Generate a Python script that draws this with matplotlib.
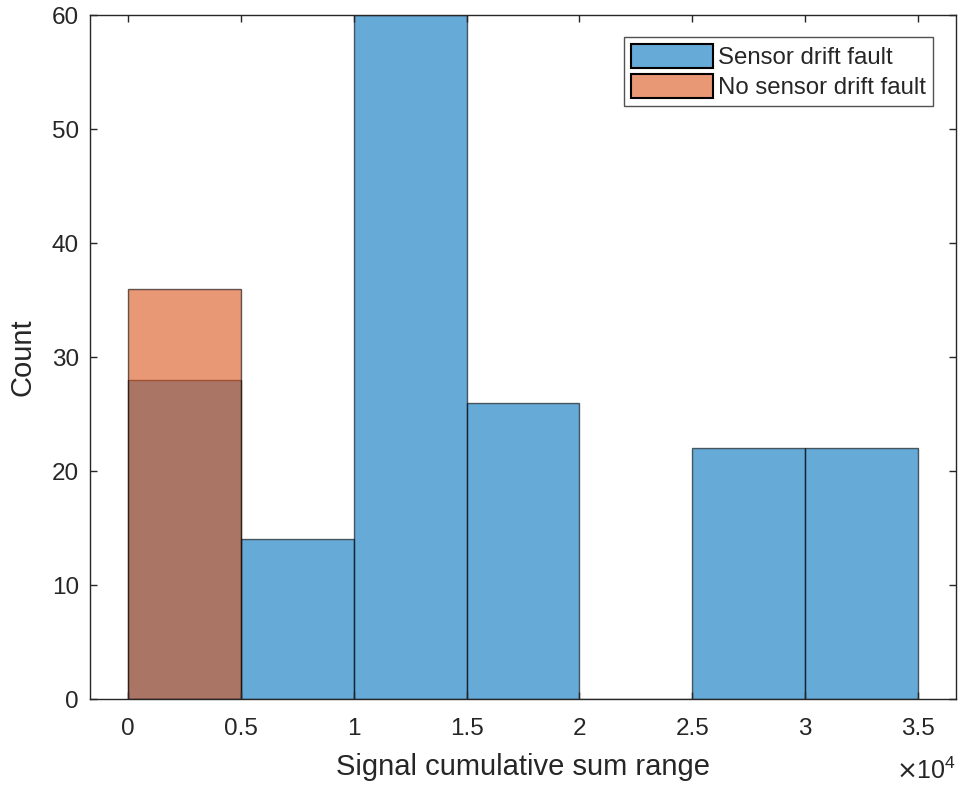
import matplotlib
matplotlib.use("Agg")
import matplotlib.pyplot as plt
import numpy as np

plt.rcParams['font.family'] = ['Liberation Sans', 'DejaVu Sans']

bin_edges = [0, 5000, 10000, 15000, 20000, 25000, 30000, 35000]
drift_counts = [28, 14, 60, 26, 0, 22, 22]
nodrift_edges = [0, 5000]
nodrift_counts = [36]
xticks = [0, 5000, 10000, 15000, 20000, 25000, 30000, 35000]
xticklabels = ['0', '0.5', '1', '1.5', '2', '2.5', '3', '3.5']
yticks = [0, 10, 20, 30, 40, 50, 60]

blue = (0, 0.447, 0.741)
orange = (0.85, 0.325, 0.098)
dark = '#262626'

fig = plt.figure(figsize=(9.59, 7.85), dpi=100)
ax = fig.add_axes([90/959, 1 - 699/785, (956-90)/959, (699-15)/785])

ax.hist(bin_edges[:-1], bins=bin_edges, weights=drift_counts, color=blue, alpha=0.6,
        edgecolor='black', linewidth=1.0, label='Sensor drift fault')
ax.hist(nodrift_edges[:-1], bins=nodrift_edges, weights=nodrift_counts, color=orange, alpha=0.6,
        edgecolor='black', linewidth=1.0, label='No sensor drift fault')
for p in ax.patches:
    p.set_edgecolor((0, 0, 0, 1))

ax.set_xlim(-1680, 36680)
ax.set_ylim(0, 60)
ax.set_xticks(xticks)
ax.set_xticklabels(xticklabels)
ax.set_yticks(yticks)
ax.tick_params(direction='in', length=5, width=1, colors=dark, labelsize=17.5,
               top=True, right=True)
ax.tick_params(axis='x', pad=14)
ax.tick_params(axis='y', pad=8)
for s in ax.spines.values():
    s.set_color(dark)
    s.set_linewidth(1)

ax.set_xlabel('Signal cumulative sum range', fontsize=21, color=dark)
ax.xaxis.set_label_coords(0.5, (699 - 767) / 684)
ax.xaxis.label.set_va('center')
ax.set_ylabel('Count', fontsize=21, color=dark)
ax.yaxis.set_label_coords((22 - 90) / 866, 0.5)
ax.yaxis.label.set_va('center')
ax.text(1.0, (699 - 771) / 684, r'$\times\mathregular{10^{4}}$', transform=ax.transAxes,
        ha='right', va='center', fontsize=18, color=dark)

leg = ax.legend(loc='upper right', bbox_to_anchor=(933/959, 1 - 37/785), bbox_transform=fig.transFigure,
                fontsize=17.3, frameon=True, fancybox=False, borderpad=0.3, labelspacing=0.2,
                handlelength=3.4, handleheight=1.15, handletextpad=0.2, borderaxespad=0)
leg.get_frame().set_edgecolor(dark)
leg.get_frame().set_linewidth(1)
for t in leg.get_texts():
    t.set_color(dark)
for h in leg.legend_handles:
    h.set_alpha(None)
    h.set_facecolor(h.get_facecolor()[:3] + (0.6,))
    h.set_edgecolor((0, 0, 0, 1))
    h.set_linewidth(1.5)

fig.savefig('out.png', dpi=100)
